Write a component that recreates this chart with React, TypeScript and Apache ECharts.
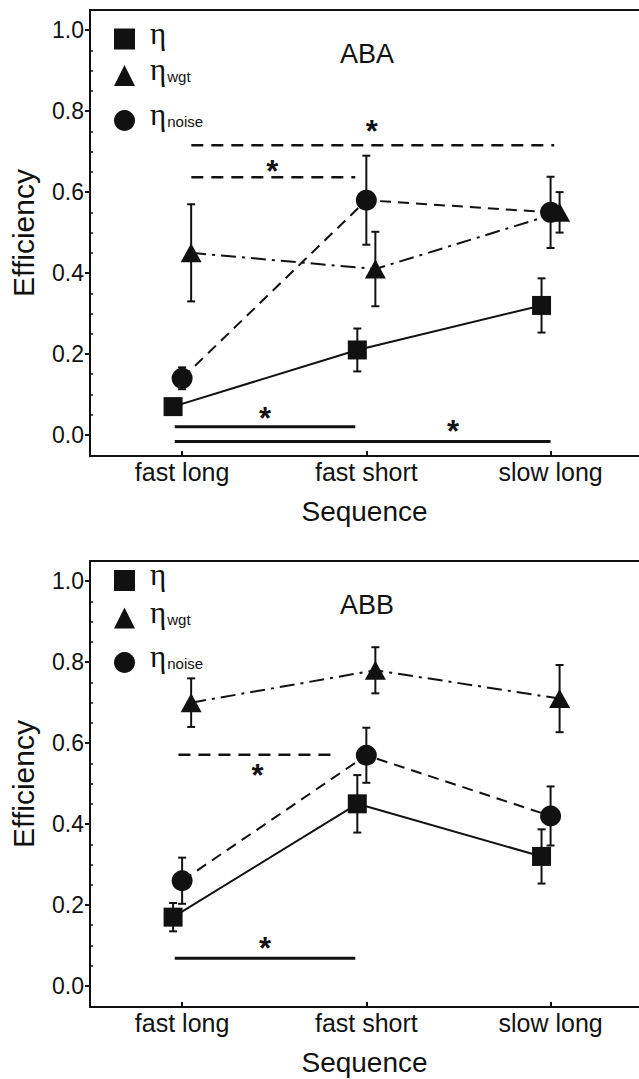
import React, { useEffect, useRef } from "react";
import * as echarts from "echarts";

const CATEGORIES = ["fast long", "fast short", "slow long"];
const Y_MAJOR = [0, 0.2, 0.4, 0.6, 0.8, 1.0];
const Y_MINOR = [0.05, 0.1, 0.15, 0.25, 0.3, 0.35, 0.45, 0.5, 0.55, 0.65, 0.7, 0.75, 0.85, 0.9, 0.95];
const SERIES_NAMES = ["η", "ηwgt", "ηnoise"];

// Panel ABA
const ABA_ETA = [0.07, 0.21, 0.32];
const ABA_ETA_ERR = [0.012, 0.053, 0.067];
const ABA_WGT = [0.45, 0.41, 0.55];
const ABA_WGT_ERR = [0.12, 0.092, 0.05];
const ABA_NOISE = [0.14, 0.58, 0.55];
const ABA_NOISE_ERR = [0.027, 0.11, 0.088];
const ABA_SIG = [
  { from: 0.05, to: 2.02, y: 0.716, dashed: true, starX: 1.03, starY: 0.767 },
  { from: 0.05, to: 0.94, y: 0.637, dashed: true, starX: 0.49, starY: 0.668 },
  { from: -0.04, to: 0.94, y: 0.02, dashed: false, starX: 0.45, starY: 0.059 },
  { from: -0.04, to: 2.0, y: -0.016, dashed: false, starX: 1.47, starY: 0.026 },
];

// Panel ABB
const ABB_ETA = [0.17, 0.45, 0.32];
const ABB_ETA_ERR = [0.035, 0.071, 0.067];
const ABB_WGT = [0.7, 0.78, 0.71];
const ABB_WGT_ERR = [0.06, 0.057, 0.083];
const ABB_NOISE = [0.26, 0.57, 0.42];
const ABB_NOISE_ERR = [0.057, 0.068, 0.073];
const ABB_SIG = [
  { from: -0.02, to: 0.84, y: 0.571, dashed: true, starX: 0.41, starY: 0.538 },
  { from: -0.04, to: 0.94, y: 0.0685, dashed: false, starX: 0.45, starY: 0.109 },
];

const PANELS = [
  { title: "ABA", eta: ABA_ETA, etaErr: ABA_ETA_ERR, wgt: ABA_WGT, wgtErr: ABA_WGT_ERR, noise: ABA_NOISE, noiseErr: ABA_NOISE_ERR, sig: ABA_SIG },
  { title: "ABB", eta: ABB_ETA, etaErr: ABB_ETA_ERR, wgt: ABB_WGT, wgtErr: ABB_WGT_ERR, noise: ABB_NOISE, noiseErr: ABB_NOISE_ERR, sig: ABB_SIG },
];

const FONT = "'Liberation Sans', Arial, Helvetica, sans-serif";
const SERIF = "'Liberation Serif', 'DejaVu Serif', serif";
const INK = "#111";
const DODGE = { eta: -0.049, wgt: 0.049, noise: 0 };
const GRID_TOPS = [10, 561];
const GRID_H = 446;
const X_MIN = -0.5;
const X_MAX = 2.48;
const LEGEND_CENTERS = [
  [37.5, 74, 119],
  [579, 616.5, 661],
];
const TITLE_TOPS = [40, 591];
const ICONS = ["rect", "triangle", "circle"];

const LEGEND_TEXT: Record<string, string> = {
  "η": "{e|η}",
  "ηwgt": "{e|η}{s|wgt}",
  "ηnoise": "{e|η}{s|noise}",
};

function errorBars(p: number, values: number[], errs: number[], dodge: number) {
  return {
    type: "custom",
    xAxisIndex: p * 2,
    yAxisIndex: p * 2,
    silent: true,
    z: 3,
    data: values.map((v, i) => [i + dodge, v - errs[i], v + errs[i]]),
    encode: { x: 0, y: [1, 2] },
    renderItem: (_params: any, api: any) => {
      const x = api.value(0);
      const lo = api.coord([x, api.value(1)]);
      const hi = api.coord([x, api.value(2)]);
      const cap = 4;
      const style = { stroke: INK, lineWidth: 2, fill: null };
      return {
        type: "group",
        children: [
          { type: "line", shape: { x1: lo[0], y1: lo[1], x2: hi[0], y2: hi[1] }, style },
          { type: "line", shape: { x1: lo[0] - cap, y1: lo[1], x2: lo[0] + cap, y2: lo[1] }, style },
          { type: "line", shape: { x1: hi[0] - cap, y1: hi[1], x2: hi[0] + cap, y2: hi[1] }, style },
        ],
      };
    },
  };
}

function buildOption() {
  const grid: any[] = [];
  const xAxis: any[] = [];
  const yAxis: any[] = [];
  const series: any[] = [];
  const legend: any[] = [];
  const title: any[] = [];

  PANELS.forEach((panel, p) => {
    grid.push({
      left: 88,
      right: 0,
      top: GRID_TOPS[p],
      height: GRID_H,
      show: false,
    });
    xAxis.push({
      type: "value",
      gridIndex: p,
      min: X_MIN,
      max: X_MAX,
      position: "bottom",
      axisLine: { show: true, onZero: false, lineStyle: { color: INK, width: 2 } },
      axisTick: { show: true, inside: true, length: 5, customValues: [0, 1, 2], lineStyle: { color: INK, width: 2 } },
      axisLabel: {
        customValues: [0, 1, 2],
        formatter: (v: number) => CATEGORIES[Math.round(v)],
        fontSize: 25,
        fontFamily: FONT,
        color: INK,
        margin: 3,
      },
      splitLine: { show: false },
      name: "Sequence",
      nameLocation: "middle",
      nameGap: 41,
      nameTextStyle: { fontSize: 28, fontFamily: FONT, color: INK },
    });
    // top frame line
    xAxis.push({
      type: "value",
      gridIndex: p,
      min: X_MIN,
      max: X_MAX,
      position: "top",
      axisLine: { show: true, onZero: false, lineStyle: { color: INK, width: 2 } },
      axisTick: { show: false },
      axisLabel: { show: false },
      splitLine: { show: false },
    });
    yAxis.push({
      type: "value",
      gridIndex: p,
      min: -0.052,
      max: 1.05,
      position: "left",
      axisLine: { show: true, onZero: false, lineStyle: { color: INK, width: 2 } },
      axisTick: { show: true, inside: false, length: 5, customValues: Y_MAJOR, lineStyle: { color: INK, width: 2 } },
      axisLabel: {
        customValues: Y_MAJOR,
        formatter: (v: number) => v.toFixed(1),
        fontSize: 23,
        fontFamily: FONT,
        color: INK,
        margin: 6,
      },
      splitLine: { show: false },
      name: "Efficiency",
      nameLocation: "middle",
      nameGap: 52,
      nameTextStyle: { fontSize: 30, fontFamily: FONT, color: INK },
    });
    yAxis.push({
      type: "value",
      gridIndex: p,
      min: -0.052,
      max: 1.05,
      position: "left",
      axisLine: { show: false, onZero: false },
      axisTick: { show: true, inside: true, length: 3, customValues: Y_MINOR, lineStyle: { color: INK, width: 1.5 } },
      axisLabel: { show: false },
      splitLine: { show: false },
    });

    const common = { xAxisIndex: p * 2, yAxisIndex: p * 2, silent: true, z: 5, showSymbol: true };
    series.push({
      ...common,
      type: "line",
      name: SERIES_NAMES[0],
      data: panel.eta.map((v, i) => [i + DODGE.eta, v]),
      symbol: "rect",
      symbolSize: 19,
      lineStyle: { color: INK, width: 2, type: "solid" },
      itemStyle: { color: INK },
    });
    series.push({
      ...common,
      type: "line",
      name: SERIES_NAMES[1],
      data: panel.wgt.map((v, i) => [i + DODGE.wgt, v]),
      symbol: "triangle",
      symbolSize: [21, 19],
      lineStyle: { color: INK, width: 2, type: [15, 6, 3, 6] },
      itemStyle: { color: INK },
    });
    series.push({
      ...common,
      type: "line",
      name: SERIES_NAMES[2],
      data: panel.noise.map((v, i) => [i + DODGE.noise, v]),
      symbol: "circle",
      symbolSize: 21,
      lineStyle: { color: INK, width: 2, type: [11, 7] },
      itemStyle: { color: INK },
    });
    series.push(errorBars(p, panel.eta, panel.etaErr, DODGE.eta));
    series.push(errorBars(p, panel.wgt, panel.wgtErr, DODGE.wgt));
    series.push(errorBars(p, panel.noise, panel.noiseErr, DODGE.noise));

    // significance bars
    series.push({
      type: "custom",
      xAxisIndex: p * 2,
      yAxisIndex: p * 2,
      silent: true,
      z: 4,
      data: panel.sig.map((s) => [s.from, s.to, s.y, s.dashed ? 1 : 0]),
      encode: { x: [0, 1], y: 2 },
      renderItem: (_params: any, api: any) => {
        const a = api.coord([api.value(0), api.value(2)]);
        const b = api.coord([api.value(1), api.value(2)]);
        const dashed = api.value(3) === 1;
        return {
          type: "line",
          shape: { x1: a[0], y1: a[1], x2: b[0], y2: b[1] },
          style: { stroke: INK, lineWidth: dashed ? 2.5 : 3, lineDash: dashed ? [12, 8] : null, fill: null },
        };
      },
    });
    // significance stars
    series.push({
      type: "custom",
      xAxisIndex: p * 2,
      yAxisIndex: p * 2,
      silent: true,
      z: 4,
      data: panel.sig.map((s) => [s.starX, s.starY]),
      encode: { x: 0, y: 1 },
      renderItem: (_params: any, api: any) => {
        const c = api.coord([api.value(0), api.value(1)]);
        return {
          type: "text",
          x: c[0],
          y: c[1] + 7,
          style: {
            text: "*",
            fontSize: 31,
            fontWeight: "bold",
            fontFamily: FONT,
            fill: INK,
            align: "center",
            verticalAlign: "middle",
          },
        };
      },
    });

    SERIES_NAMES.forEach((name, k) => {
      legend.push({
        show: true,
        orient: "vertical",
        left: 114,
        top: LEGEND_CENTERS[p][k] - 20,
        padding: 0,
        itemWidth: 21,
        itemHeight: 21,
        selectedMode: false,
        data: [{ name, icon: ICONS[k] }],
        formatter: (n: string) => LEGEND_TEXT[n],
        itemStyle: { color: INK, borderWidth: 0 },
        lineStyle: { width: 0 },
        textStyle: {
          color: INK,
          padding: [0, 0, 12, 10],
          rich: {
            e: { fontFamily: SERIF, fontSize: 31, lineHeight: 28, color: INK },
            s: { fontFamily: FONT, fontSize: 15, lineHeight: 14, padding: [14, 0, 0, 1], color: INK },
          },
        },
      });
    });

    title.push({
      text: panel.title,
      left: 340,
      top: TITLE_TOPS[p],
      padding: 0,
      textStyle: { fontSize: 27, fontWeight: "normal", fontFamily: FONT, color: INK },
    });
  });

  return {
    animation: false,
    backgroundColor: "#fff",
    textStyle: { fontFamily: FONT },
    title,
    legend,
    grid,
    xAxis,
    yAxis,
    series,
  };
}

export default function App() {
  const ref = useRef<HTMLDivElement>(null);
  useEffect(() => {
    if (!ref.current) return;
    const chart = echarts.init(ref.current, null, { renderer: "svg" });
    chart.setOption(buildOption() as any);
    return () => chart.dispose();
  }, []);
  return (
    <div
      ref={ref}
      style={{ position: "absolute", left: 0, top: 0, width: 639, height: 1079, background: "#fff" }}
    />
  );
}
